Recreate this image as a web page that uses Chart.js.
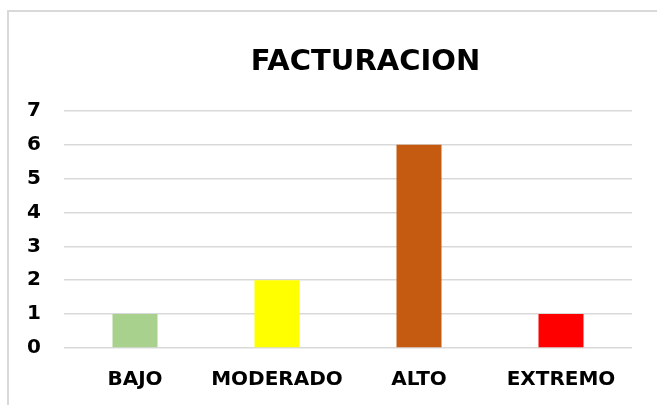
<!DOCTYPE html>
<html>
<head>
<meta charset="utf-8">
<script src="https://cdn.jsdelivr.net/npm/chart.js@4"></script>
<style>
    html, body { margin: 0; padding: 0; background: #fff; overflow: hidden; }
    #wrap { position: relative; width: 657px; height: 405px; }
    #frame {
        position: absolute; left: 7px; top: 10px; width: 700px; height: 450px;
        border: 2px solid #d9d9d9; box-sizing: border-box; pointer-events: none;
    }
</style>
</head>
<body>
<div id="wrap">
    <canvas id="chart" width="657" height="405"></canvas>
    <div id="frame"></div>
</div>
<script>
// Data
const categories = ['BAJO', 'MODERADO', 'ALTO', 'EXTREMO'];
const values = [1, 2, 6, 1];
const barColors = ['#a9d18e', '#ffff00', '#c55a11', '#ff0000'];
const chartTitle = 'FACTURACION';

const fontFamily = '"DejaVu Sans", sans-serif';

// Title sits a bit right of the canvas centre in the reference
const titleShift = {
    id: 'titleShift',
    afterLayout(chart) {
        if (chart.titleBlock) {
            chart.titleBlock.left += 36;
            chart.titleBlock.right += 36;
        }
    }
};

// Create the chart
const ctx = document.getElementById('chart').getContext('2d');
const facturacionChart = new Chart(ctx, {
    type: 'bar',
    data: {
        labels: categories,
        datasets: [{
            data: values,
            backgroundColor: barColors,
            borderWidth: 0,
            barPercentage: 0.317,
            categoryPercentage: 1
        }]
    },
    options: {
        responsive: false,
        animation: false,
        layout: {
            padding: { left: 27, right: 25, top: 0, bottom: 5 }
        },
        scales: {
            x: {
                grid: { display: false, drawTicks: false },
                border: { display: false },
                afterFit(axis) {
                    axis.height = 52;
                    axis.paddingLeft = 0;
                    axis.paddingRight = 0;
                },
                ticks: {
                    color: '#000',
                    padding: 20,
                    maxRotation: 0,
                    minRotation: 0,
                    autoSkip: false,
                    font: { family: fontFamily, size: 20, weight: 'bold' }
                }
            },
            y: {
                min: 0,
                max: 7,
                grid: {
                    color: '#d9d9d9',
                    lineWidth: 1.5,
                    drawTicks: false
                },
                border: { display: false },
                afterFit(axis) {
                    axis.width = 37;
                    axis.paddingTop = 0;
                    axis.paddingBottom = 0;
                },
                ticks: {
                    stepSize: 1,
                    autoSkip: false,
                    color: '#000',
                    padding: 23,
                    font: { family: fontFamily, size: 20, weight: 'bold' }
                }
            }
        },
        plugins: {
            legend: { display: false },
            tooltip: { enabled: false },
            title: {
                display: true,
                text: chartTitle,
                color: '#000',
                padding: { top: 45, bottom: 31 },
                font: { family: fontFamily, size: 29, weight: 'bold' }
            }
        }
    },
    plugins: [titleShift]
});
</script>
</body>
</html>
